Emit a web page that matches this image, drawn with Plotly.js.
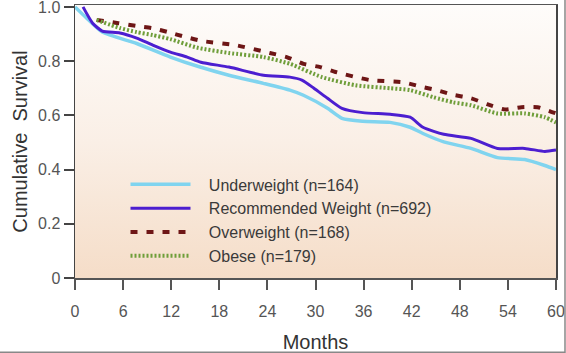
<!DOCTYPE html>
<html>
<head>
<meta charset="utf-8">
<script src="https://cdn.plot.ly/plotly-3.0.1.min.js"></script>
<style>html,body{margin:0;padding:0;background:#fff;}#chart{width:566px;height:353px;}</style>
</head>
<body>
<div id="chart"></div>
<script>
const seriesNames = ['Underweight (n=164)', 'Recommended Weight (n=692)', 'Overweight (n=168)', 'Obese (n=179)'];

const underMonths = [0, 1.4, 3.4, 7.7, 11.9, 15.4, 19.2, 23.5, 26.8, 28.5, 31.5, 33.3, 35.9, 39.3, 41.8, 43.4, 46, 49.4, 52.7, 56.1, 58.6, 60];
const underSurv   = [1.0, 0.96, 0.907, 0.865, 0.815, 0.78, 0.748, 0.718, 0.693, 0.674, 0.626, 0.589, 0.578, 0.574, 0.556, 0.533, 0.502, 0.478, 0.444, 0.437, 0.415, 0.40];

const recMonths = [1, 2.2, 3.4, 5.6, 7.7, 9.7, 11.9, 14, 15.7, 19.2, 23.5, 26.8, 28.3, 29.8, 31.5, 33.3, 35.9, 39.3, 41.8, 43.4, 46, 49.4, 52.7, 56.1, 58.6, 60];
const recSurv   = [1.0, 0.94, 0.911, 0.904, 0.885, 0.859, 0.833, 0.815, 0.796, 0.778, 0.748, 0.741, 0.73, 0.70, 0.663, 0.626, 0.61, 0.604, 0.593, 0.556, 0.53, 0.515, 0.478, 0.478, 0.467, 0.472];

const overMonths = [2.7, 5.4, 7.6, 9.6, 11.6, 13.8, 15.9, 20, 24.3, 26.4, 28.5, 30.6, 32.5, 36.8, 40.9, 43, 45.1, 47.1, 49.4, 51.4, 53.6, 55.7, 57.7, 60];
const overSurv   = [0.952, 0.94, 0.93, 0.922, 0.907, 0.889, 0.874, 0.859, 0.83, 0.815, 0.79, 0.778, 0.76, 0.73, 0.722, 0.707, 0.693, 0.676, 0.663, 0.641, 0.622, 0.63, 0.63, 0.607];

const obeseMonths = [2.7, 5.6, 7.7, 9.7, 11.9, 15.2, 19.2, 23.5, 26.8, 30.8, 35, 39.3, 41.8, 44.7, 47.2, 49.4, 52.7, 56.1, 58.6, 60];
const obeseSurv   = [0.952, 0.922, 0.907, 0.896, 0.881, 0.85, 0.83, 0.815, 0.79, 0.741, 0.711, 0.70, 0.693, 0.667, 0.648, 0.637, 0.607, 0.607, 0.593, 0.574];

const xTicks = [0, 6, 12, 18, 24, 30, 36, 42, 48, 54, 60];
const yTicks = [0, 0.2, 0.4, 0.6, 0.8, 1.0];
const yTickText = ['0', '0.2', '0.4', '0.6', '0.8', '1.0'];

const pad = '\u00a0\u00a0\u00a0';
const traces = [
  {x: underMonths, y: underSurv, name: pad + seriesNames[0], mode: 'lines',
   line: {color: '#80d4ef', width: 3.5, shape: 'spline', smoothing: 0.6}},
  {x: recMonths, y: recSurv, name: pad + seriesNames[1], mode: 'lines',
   line: {color: '#4c1ed0', width: 3, shape: 'spline', smoothing: 0.6}},
  {x: overMonths, y: overSurv, name: pad + seriesNames[2], mode: 'lines',
   line: {color: '#6e1616', width: 4, dash: '7px,9px', shape: 'spline', smoothing: 0.6}},
  {x: obeseMonths, y: obeseSurv, name: pad + seriesNames[3], mode: 'lines',
   line: {color: '#6f9e3a', width: 4, dash: '2px,2px', shape: 'spline', smoothing: 0.6}}
];

const grad = "data:image/svg+xml;utf8," + encodeURIComponent(
  '<svg xmlns="http://www.w3.org/2000/svg" width="100" height="100" preserveAspectRatio="none">' +
  '<defs><linearGradient id="g" x1="0" y1="0" x2="0" y2="1">' +
  '<stop offset="0" stop-color="#fefcfa"/><stop offset="0.5" stop-color="#faefe6"/><stop offset="1" stop-color="#f5ddc8"/>' +
  '</linearGradient></defs><rect width="100" height="100" fill="url(#g)"/></svg>');

const layout = {
  width: 566, height: 353,
  margin: {l: 75, r: 10, t: 5, b: 75},
  paper_bgcolor: '#ffffff',
  plot_bgcolor: 'rgba(0,0,0,0)',
  font: {family: 'Liberation Sans, Arial, sans-serif', color: '#444'},
  showlegend: true,
  legend: {
    x: 0.105, y: 0.405, xanchor: 'left', yanchor: 'top',
    bgcolor: 'rgba(0,0,0,0)', borderwidth: 0,
    font: {size: 16, color: '#3a3a3a'},
    itemwidth: 60, tracegroupgap: 0
  },
  xaxis: {
    range: [0, 60], tickvals: xTicks, ticktext: xTicks.map(String),
    ticks: 'outside', ticklen: 10, tickwidth: 2, tickcolor: '#555',
    ticklabelstandoff: 8, ticklabeloverflow: 'allow',
    showline: true, linecolor: '#555', linewidth: 1.5, mirror: true,
    showgrid: false, zeroline: false,
    tickfont: {size: 16, color: '#555'},
    title: {text: 'Months', font: {size: 20, color: '#333'}, standoff: 16}
  },
  yaxis: {
    range: [0, 1.007], tickvals: yTicks, ticktext: yTickText,
    ticks: 'outside', ticklen: 10, tickwidth: 2, tickcolor: '#444',
    ticklabeloverflow: 'allow',
    showline: true, linecolor: '#444', linewidth: 1.5, mirror: true,
    showgrid: false, zeroline: false,
    tickfont: {size: 16, color: '#555'},
    title: {text: 'Cumulative&nbsp;&nbsp;Survival', font: {size: 20, color: '#333'}, standoff: 5}
  },
  images: [{source: grad, xref: 'paper', yref: 'paper', x: 0, y: 1, sizex: 1, sizey: 1,
            sizing: 'stretch', layer: 'below', xanchor: 'left', yanchor: 'top'}],
  shapes: [
    {type: 'line', xref: 'paper', yref: 'paper', x0: 1.0187, x1: 1.0187, y0: -0.275, y1: 1.02,
     line: {color: '#888', width: 1.5}},
    {type: 'line', xref: 'paper', yref: 'paper', x0: -0.16, x1: 1.0187, y0: -0.272, y1: -0.272,
     line: {color: '#888', width: 1.5}}
  ]
};

Plotly.newPlot('chart', traces, layout, {displayModeBar: false, staticPlot: true});
</script>
</body>
</html>
